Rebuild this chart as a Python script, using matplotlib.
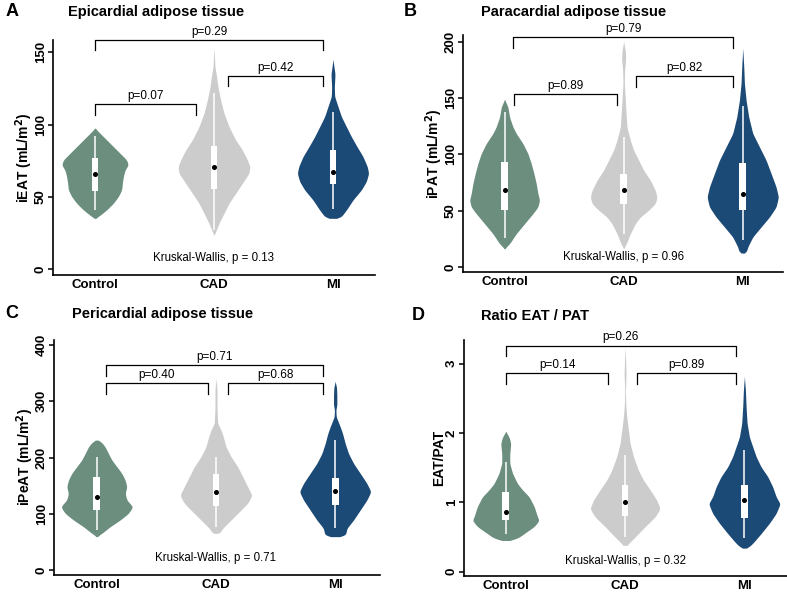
import numpy as np
import matplotlib
matplotlib.use("Agg")
import matplotlib.pyplot as plt

plt.rcParams["font.family"] = ["Liberation Sans", "DejaVu Sans"]

groups = ["Control", "CAD", "MI"]
colors = ["#6b8e7f", "#cccccc", "#1c4a76"]

# violin outlines: y value and relative density
A_control_y = [35.3, 36.5, 41.1, 45.7, 50.3, 54.9, 59.5, 64.1, 68.7, 72.2, 75.7, 80.3, 84.9, 89.5, 94.1, 97.6]
A_control_d = [0, .10, .35, .55, .70, .80, .82, .85, .90, 1.00, .95, .75, .55, .35, .15, 0]
A_cad_y = [23.8, 24.9, 31.8, 38.8, 45.7, 52.6, 59.5, 66.4, 71, 75.7, 82.6, 89.5, 98.7, 108, 117, 126, 133, 140, 153]
A_cad_d = [0, .03, .15, .30, .45, .65, .85, 1.05, 1.08, 1.0, .85, .65, .45, .30, .20, .12, .08, .03, 0]
A_mi_y = [35.3, 35.31, 36.5, 41, 48, 54.9, 60.7, 66.4, 71, 78, 84.9, 91.8, 98.7, 105.7, 112.6, 119.5, 126, 135, 145]
A_mi_d = [0, .25, .25, .40, .60, .85, 1.0, 1.07, 1.03, .90, .72, .55, .40, .25, .15, .05, .04, .06, 0]

B_control_y = [16.3, 20.7, 29.6, 38.5, 47.4, 53.3, 59.3, 65.2, 74, 83, 91.9, 100.7, 109.6, 118.5, 124.4, 133, 142, 148.7]
B_control_d = [0, .15, .35, .60, .85, 1.0, 1.05, 1.0, .95, .88, .80, .70, .55, .35, .25, .15, .10, 0]
B_cad_y = [16.3, 20.7, 29.6, 38.5, 44.4, 50.4, 56.3, 62, 68, 77, 85.9, 94.8, 103.7, 112.6, 124, 133, 148, 163, 175, 184, 192, 200]
B_cad_d = [0, .08, .20, .35, .50, .75, .95, 1.0, .95, .80, .60, .45, .30, .20, .10, .08, .05, .02, .03, .06, .05, 0]
B_mi_y = [12.4, 12.41, 17.8, 26.7, 35.6, 44.4, 53.3, 62.2, 71, 83, 94.8, 106.7, 118.5, 133, 148, 163, 178, 194]
B_mi_d = [0, .10, .15, .30, .55, .80, 1.0, 1.07, 1.0, .85, .70, .50, .30, .18, .10, .05, .03, 0]

C_control_y = [59.3, 65.2, 77, 88.9, 100.7, 112.6, 124.4, 136.3, 148, 160, 171.9, 183.7, 195.6, 207, 219, 229, 231]
C_control_d = [0, .15, .40, .70, .95, 1.08, .90, .85, .90, .85, .75, .60, .45, .35, .25, .12, 0]
C_cad_y = [65.2, 65.21, 71, 83, 100.7, 118.5, 133, 148, 166, 183.7, 201.5, 219, 237, 249, 260.7, 290, 320, 340.7]
C_cad_d = [0, .15, .15, .35, .65, .95, 1.08, .95, .80, .65, .45, .30, .22, .15, .05, .03, .03, 0]
C_mi_y = [59.3, 59.31, 74, 88.9, 106.7, 124.4, 139.3, 154, 171.9, 189.6, 207, 225, 243, 254.8, 272.6, 285, 293, 310, 325, 334.8]
C_mi_d = [0, .30, .35, .55, .75, .95, 1.07, .95, .75, .55, .40, .30, .22, .15, .03, .02, .05, .05, .04, 0]

D_control_y = [0.45, 0.451, 0.48, 0.55, 0.65, 0.74, 0.79, 0.94, 1.08, 1.18, 1.27, 1.42, 1.56, 1.70, 1.85, 1.94, 2.02]
D_control_d = [0, .15, .35, .55, .85, 1.0, .95, .85, .70, .50, .35, .20, .12, .12, .15, .10, 0]
D_cad_y = [0.38, 0.50, 0.65, 0.79, 0.91, 1.03, 1.18, 1.32, 1.46, 1.66, 1.85, 2.04, 2.23, 2.42, 2.6, 2.86, 3.0, 3.24]
D_cad_d = [.05, .30, .60, .90, 1.05, .95, .75, .55, .40, .25, .15, .10, .05, .02, .01, .03, .02, 0]
D_mi_y = [0.34, 0.341, 0.41, 0.55, 0.70, 0.84, 0.98, 1.08, 1.22, 1.37, 1.51, 1.66, 1.80, 1.94, 2.14, 2.38, 2.62, 2.81]
D_mi_d = [0, .10, .25, .50, .75, .95, 1.07, .95, .85, .70, .50, .35, .25, .15, .08, .05, .03, 0]

# box stats per group: q1, median, q3, whisker low, whisker high
A_box = [(54.2, 66.2, 76.8, 41, 92.3), (55.6, 71, 85.6, 27, 122), (58.8, 67.6, 82.6, 42, 109)]
B_box = [(51, 68.7, 93.3, 26, 138), (55.7, 68.7, 83, 29.6, 115.6), (51, 65.2, 92.4, 24.3, 142.8)]
C_box = [(106.7, 130.4, 166, 71, 201.5), (113.8, 138, 170, 77, 201.5), (115.6, 140.4, 164, 74, 231)]
D_box = [(0.75, 0.86, 1.15, 0.55, 1.58), (0.81, 1.0, 1.25, 0.50, 1.68), (0.78, 1.04, 1.25, 0.48, 1.76)]

# pairwise comparisons: x ends, bracket height, label
A_pairs = [(1, 1.85, 114.2, "p=0.07"), (2.12, 2.92, 133.8, "p=0.42"), (1, 2.92, 158.7, "p=0.29")]
B_pairs = [(1.08, 1.94, 153.2, "p=0.89"), (2.10, 2.92, 169.5, "p=0.82"), (1.07, 2.92, 203.9, "p=0.79")]
C_pairs = [(1.08, 1.93, 331.9, "p=0.40"), (2.10, 2.90, 331.9, "p=0.68"), (1.08, 2.90, 364.4, "p=0.71")]
D_pairs = [(1.0, 1.86, 2.86, "p=0.14"), (2.10, 2.93, 2.86, "p=0.89"), (1.0, 2.93, 3.26, "p=0.26")]

kw_labels = ["Kruskal-Wallis, p = 0.13", "Kruskal-Wallis, p = 0.96",
             "Kruskal-Wallis, p = 0.71", "Kruskal-Wallis, p = 0.32"]
kw_y = [7.6, 8.9, 20.7, 0.16]

titles = ["Epicardial adipose tissue", "Paracardial adipose tissue",
          "Pericardial adipose tissue", "Ratio EAT / PAT"]
letters = ["A", "B", "C", "D"]
ylabels = ["iEAT (mL/m$^\\mathbf{2}$)", "iPAT (mL/m$^\\mathbf{2}$)", "iPeAT (mL/m$^\\mathbf{2}$)", "EAT/PAT"]
yticks = [[0, 50, 100, 150], [0, 50, 100, 150, 200], [0, 100, 200, 300, 400], [0, 1, 2, 3]]

panels = [
    ([(A_control_y, A_control_d), (A_cad_y, A_cad_d), (A_mi_y, A_mi_d)], A_box, A_pairs),
    ([(B_control_y, B_control_d), (B_cad_y, B_cad_d), (B_mi_y, B_mi_d)], B_box, B_pairs),
    ([(C_control_y, C_control_d), (C_cad_y, C_cad_d), (C_mi_y, C_mi_d)], C_box, C_pairs),
    ([(D_control_y, D_control_d), (D_cad_y, D_cad_d), (D_mi_y, D_mi_d)], D_box, D_pairs),
]

# layout (figure pixels -> fractions)
W, H = 787, 592
rects = [(53, 40, 375, 275), (463, 35, 783, 272), (54, 340, 380, 575), (464, 340, 787, 576)]
xlims = [(0.647, 3.353), (0.651, 3.338), (0.641, 3.376), (0.65, 3.357)]
ylims = [(-3.9, 158.6), (-4.4, 205.9), (-8.9, 409), (-0.062, 3.34)]
letter_pos = [(12, 12), (410, 12), (12, 314), (418, 316)]
title_pos = [(68, 12), (481, 12), (72, 314), (481, 316)]


def smooth_outline(vy, vd, span):
    # soften the corners of the traced outline
    yy = np.linspace(vy[0], vy[-1], 400)
    dd = np.interp(yy, vy, vd)
    step = yy[1] - yy[0]
    sig = 0.006 * span / step
    n = int(3 * sig) + 1
    k = np.exp(-0.5 * (np.arange(-n, n + 1) / max(sig, 1e-6)) ** 2)
    k /= k.sum()
    padded = np.pad(dd, n, mode="edge")
    return yy, np.convolve(padded, k, mode="valid")


fig = plt.figure(figsize=(7.87, 5.92), dpi=100)

for k, (violins, box, pairs) in enumerate(panels):
    x0, y0, x1, y1 = rects[k]
    ax = fig.add_axes([x0 / W, 1 - y1 / H, (x1 - x0) / W, (y1 - y0) / H])
    ax.set_xlim(*xlims[k])
    ax.set_ylim(*ylims[k])
    span = ylims[k][1] - ylims[k][0]

    for i, (vy, vd) in enumerate(violins):
        c = i + 1
        yy, dd = smooth_outline(vy, vd, span)
        w = dd * 0.28
        ax.fill_betweenx(yy, c - w, c + w, color=colors[i], lw=0, zorder=2)
        q1, med, q3, lo, hi = box[i]
        ax.plot([c, c], [lo, hi], color="white", lw=1.1, zorder=3, solid_capstyle="butt")
        ax.bar(c, q3 - q1, bottom=q1, width=0.056, color="white", lw=0, zorder=4)
        ax.plot(c, med, "o", color="black", ms=2.6, zorder=5)

    drop = 0.045 * span
    for xa, xb, yb, lab in pairs:
        ax.plot([xa, xa, xb, xb], [yb - drop, yb, yb, yb - drop], color="black",
                lw=0.9, clip_on=False, zorder=6)
        ax.annotate(lab, (0.5 * (xa + xb), yb), xytext=(0, 1.5), textcoords="offset points",
                    ha="center", va="bottom", fontsize=8.5, annotation_clip=False)

    ax.text(2, kw_y[k], kw_labels[k], ha="center", va="center", fontsize=8.3)

    ax.set_xticks([1, 2, 3])
    ax.set_xticklabels(groups, fontsize=9.5, fontweight="bold")
    ax.set_yticks(yticks[k])
    ax.set_yticklabels([str(t) for t in yticks[k]], fontsize=9.5, fontweight="bold",
                       rotation=90, va="center")
    ax.tick_params(axis="x", length=0, pad=3)
    ax.tick_params(axis="y", length=3.5, width=1.1, pad=1)
    ax.set_ylabel(ylabels[k], fontsize=10, fontweight="bold", labelpad=0)
    for s in ["top", "right"]:
        ax.spines[s].set_visible(False)
    for s in ["left", "bottom"]:
        ax.spines[s].set_linewidth(1.2)

    fig.text(letter_pos[k][0] / W, 1 - letter_pos[k][1] / H, letters[k],
             fontsize=13, fontweight="bold", ha="center", va="center")
    fig.text(title_pos[k][0] / W, 1 - title_pos[k][1] / H, titles[k],
             fontsize=10.5, fontweight="bold", ha="left", va="center")

fig.savefig("out.png", dpi=100)
